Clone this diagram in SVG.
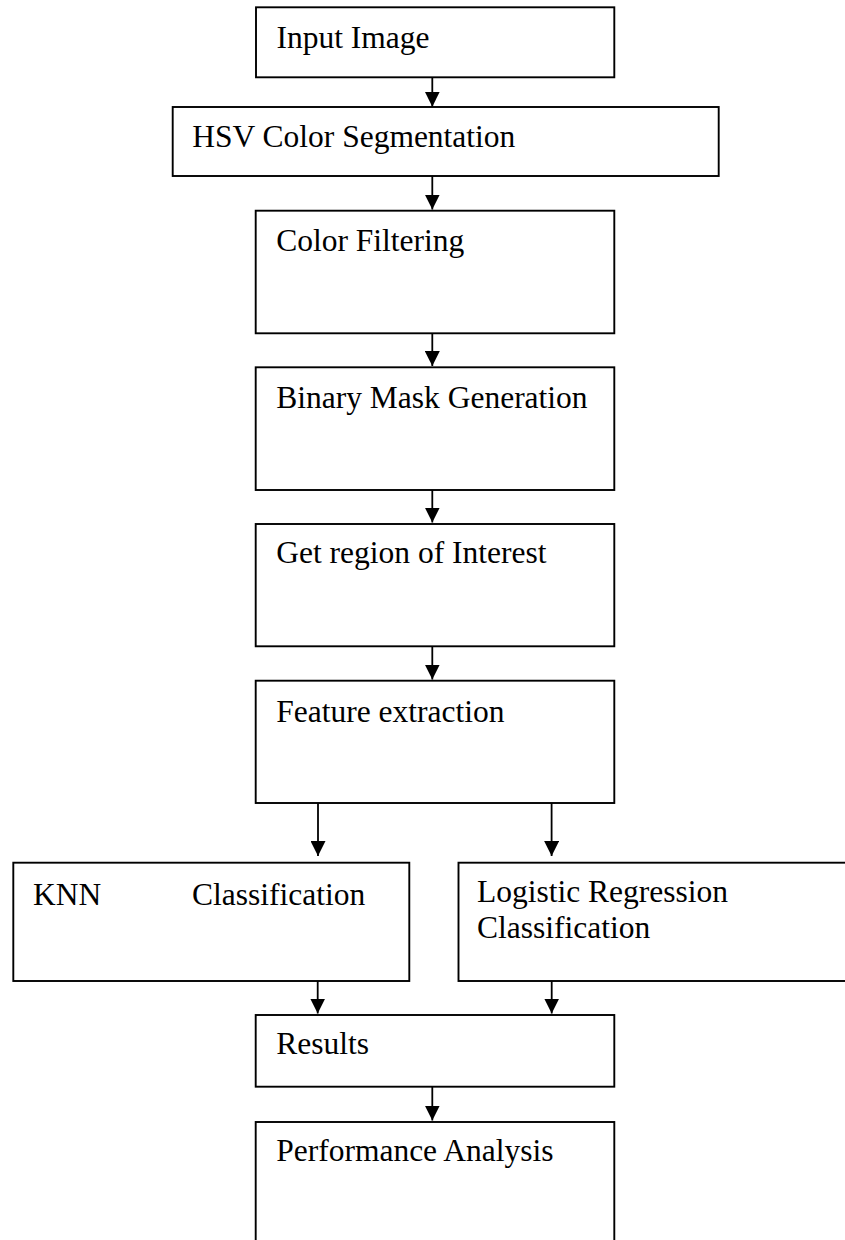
<svg xmlns="http://www.w3.org/2000/svg" width="845" height="1240" viewBox="0 0 845 1240">
  <style>
    .box { fill: #ffffff; stroke: #000000; stroke-width: 1.9; }
    .lbl { font-family: "Liberation Serif", "Times New Roman", serif; font-size: 31.5px; fill: #000000; }
    .edge { stroke: #000000; stroke-width: 1.8; fill: none; }
  </style>
  <defs>
    <marker id="arrow" markerUnits="userSpaceOnUse" markerWidth="15" markerHeight="15" viewBox="0 0 15 15" refX="15" refY="7.5" orient="auto">
      <path d="M0,0 L15,7.5 L0,15 Z" fill="#000000"/>
    </marker>
  </defs>

  <rect width="845" height="1240" fill="#ffffff"/>

  <g id="node-input">
    <rect class="box" x="256" y="7.3" width="358.3" height="70"/>
    <text class="lbl" x="276.5" y="48.3">Input Image</text>
  </g>
  <g id="node-hsv">
    <rect class="box" x="172.7" y="107" width="546" height="69"/>
    <text class="lbl" x="192.2" y="146.7">HSV Color Segmentation</text>
  </g>
  <g id="node-color">
    <rect class="box" x="255.7" y="210.7" width="358.6" height="122.6"/>
    <text class="lbl" x="276.2" y="251">Color Filtering</text>
  </g>
  <g id="node-mask">
    <rect class="box" x="255.7" y="367.3" width="358.6" height="122.7"/>
    <text class="lbl" x="276.2" y="407.7">Binary Mask Generation</text>
  </g>
  <g id="node-roi">
    <rect class="box" x="255.7" y="524" width="358.6" height="122.3"/>
    <text class="lbl" x="276.2" y="563.3">Get region of Interest</text>
  </g>
  <g id="node-feature">
    <rect class="box" x="255.7" y="680.7" width="358.6" height="122.3"/>
    <text class="lbl" x="276.2" y="721.7">Feature extraction</text>
  </g>
  <g id="node-knn">
    <rect class="box" x="13.3" y="862.7" width="396" height="118.3"/>
    <text class="lbl" x="33" y="905">KNN</text>
    <text class="lbl" x="192" y="905">Classification</text>
  </g>
  <g id="node-logreg">
    <rect class="box" x="458.5" y="862.7" width="400" height="118.3"/>
    <text class="lbl" x="477" y="902">Logistic Regression</text>
    <text class="lbl" x="477" y="938">Classification</text>
  </g>
  <g id="node-results">
    <rect class="box" x="255.7" y="1015" width="358.6" height="71.7"/>
    <text class="lbl" x="276.2" y="1054.3">Results</text>
  </g>
  <g id="node-performance">
    <rect class="box" x="255.7" y="1122" width="358.6" height="130"/>
    <text class="lbl" x="276.2" y="1161">Performance Analysis</text>
  </g>

  <g id="connectors">
    <line class="edge" x1="432.3" y1="77.3" x2="432.3" y2="106.7" marker-end="url(#arrow)"/>
    <line class="edge" x1="432.3" y1="176" x2="432.3" y2="209.5" marker-end="url(#arrow)"/>
    <line class="edge" x1="432.3" y1="333.3" x2="432.3" y2="366" marker-end="url(#arrow)"/>
    <line class="edge" x1="432.3" y1="490" x2="432.3" y2="522.5" marker-end="url(#arrow)"/>
    <line class="edge" x1="432.3" y1="646.3" x2="432.3" y2="679.5" marker-end="url(#arrow)"/>
    <line class="edge" x1="318" y1="803" x2="318" y2="856" marker-end="url(#arrow)"/>
    <line class="edge" x1="551.6" y1="803" x2="551.6" y2="856" marker-end="url(#arrow)"/>
    <line class="edge" x1="317.7" y1="981" x2="317.7" y2="1013.5" marker-end="url(#arrow)"/>
    <line class="edge" x1="551.7" y1="981" x2="551.7" y2="1013.5" marker-end="url(#arrow)"/>
    <line class="edge" x1="432.3" y1="1086.7" x2="432.3" y2="1120.5" marker-end="url(#arrow)"/>
  </g>
</svg>
